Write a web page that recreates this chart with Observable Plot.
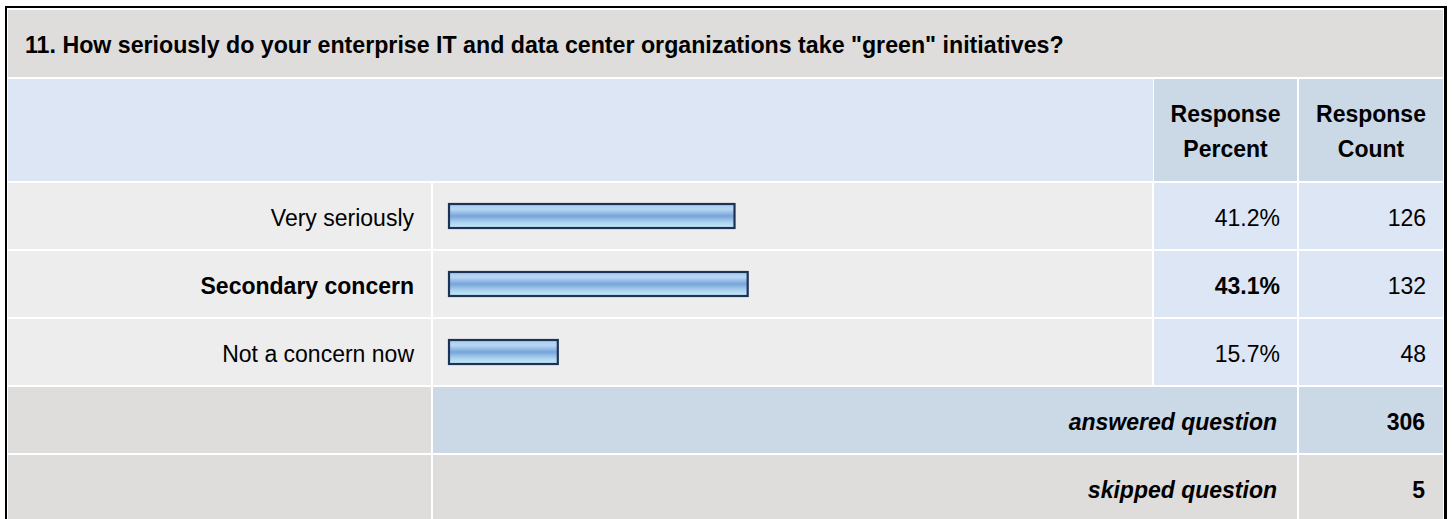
<!DOCTYPE html>
<html>
<head>
<meta charset="utf-8">
<script src="https://cdn.jsdelivr.net/npm/d3@7"></script>
<script src="https://cdn.jsdelivr.net/npm/@observablehq/plot@0.6"></script>
<style>
  html, body { margin: 0; padding: 0; background: #fff; }
  body { width: 1452px; height: 519px; overflow: hidden; position: relative;
         font-family: "Liberation Sans", Arial, Helvetica, sans-serif; font-size: 23px; color: #000; }
  .frame { position: absolute; left: 5px; top: 6px; width: 1442px; height: 600px; background: #000; }
  .inner { position: absolute; left: 7px; top: 8px; width: 1437px; height: 600px; background: #fff; }
  .cell { position: absolute; box-sizing: border-box; display: flex; align-items: center; padding-top: 4px; }
  .r { justify-content: flex-end; padding-right: 17px; }
  .c { justify-content: center; text-align: center; }
  .b { font-weight: bold; }
  .bi { font-weight: bold; font-style: italic; }
  .gray { background: #dedddb; }
  .lblue { background: #dce6f4; }
  .dblue { background: #cbd8e6; }
  .rowbg { background: #ededed; }
  .plotcell { padding-top: 0; display: block; }
  .plotcell svg { display: block; }
</style>
</head>
<body>
<div class="frame"></div>
<div class="inner"></div>
<div id="root"></div>
<script>
// ---- data ----
const question = "11. How seriously do your enterprise IT and data center organizations take \"green\" initiatives?";
const headerLabels = ["Response\nPercent", "Response\nCount"];
const categories = ["Very seriously", "Secondary concern", "Not a concern now"];
const percents = [41.2, 43.1, 15.7];
const counts = [126, 132, 48];
const highlighted = "Secondary concern";
const summaryLabels = ["answered question", "skipped question"];
const summaryValues = [306, 5];

// ---- layout ----
const colX = [8, 433, 1154, 1299];
const colW = [423, 719, 143, 144];
const titleTop = 10, titleH = 67;
const headTop = 79, headH = 102;
const rowTop0 = 183, rowPitch = 68, rowH = 66;

const root = document.getElementById("root");
function cell(x, y, w, h, cls, html) {
  const d = document.createElement("div");
  d.className = "cell " + cls;
  d.style.left = x + "px"; d.style.top = y + "px";
  d.style.width = w + "px"; d.style.height = h + "px";
  if (html != null) d.innerHTML = html;
  root.appendChild(d);
  return d;
}

// title
const t = cell(colX[0], titleTop, colX[3] + colW[3] - colX[0], titleH, "gray b", question);
t.style.paddingLeft = "17px";
t.style.fontSize = "23.2px";

// header
cell(colX[0], headTop, colX[2] - 1 - colX[0], headH, "lblue", "");
headerLabels.forEach((t, i) => {
  const d = cell(colX[2 + i], headTop, colW[2 + i], headH, "dblue c b", t.replace("\n", "<br>"));
  d.style.lineHeight = "35px";
});

// data rows
categories.forEach((cat, i) => {
  const y = rowTop0 + i * rowPitch;
  const bold = cat === highlighted ? " b" : "";
  cell(colX[0], y, colW[0], rowH, "rowbg r" + bold, cat);
  const pc = cell(colX[1], y, colW[1], rowH, "rowbg plotcell", null);
  cell(colX[2], y, colW[2], rowH, "lblue r" + bold, percents[i].toFixed(1) + "%");
  cell(colX[3], y, colW[3], rowH, "lblue r", String(counts[i]));

  const gid = "barGrad" + i;
  const chart = Plot.plot({
    width: colW[1], height: rowH,
    margin: 0,
    x: { domain: [0, 100], range: [16, 709], axis: null },
    y: { domain: [cat], range: [21, 45], padding: 0, axis: null },
    style: { background: "transparent", overflow: "visible" },
    marks: [
      Plot.barX([{ category: cat, value: percents[i] }], {
        x: "value", y: "category",
        fill: `url(#${gid})`, stroke: "#1d3254", strokeWidth: 2.2
      })
    ]
  });
  const svg = d3.select(chart);
  const grad = svg.insert("defs", ":first-child").append("linearGradient")
    .attr("id", gid).attr("x1", 0).attr("y1", 0).attr("x2", 0).attr("y2", 1);
  [[0, "#a6cbef"], [0.22, "#b7d8f4"], [0.5, "#78a4da"], [0.75, "#a9d0ee"], [1, "#c8edf9"]]
    .forEach(([o, c]) => grad.append("stop").attr("offset", o).attr("stop-color", c));
  pc.appendChild(chart);
});

// summary rows
summaryLabels.forEach((lab, j) => {
  const y = rowTop0 + (categories.length + j) * rowPitch;
  const mid = j === 0 ? "dblue" : "gray";
  cell(colX[0], y, colW[0], rowH, "gray", "");
  const d = cell(colX[1], y, colX[2] + colW[2] - colX[1], rowH, mid + " r bi", lab);
  d.style.paddingRight = "20px";
  cell(colX[3], y, colW[3], rowH, mid + " r b", String(summaryValues[j])).style.paddingRight = "18px";
});
</script>
</body>
</html>
